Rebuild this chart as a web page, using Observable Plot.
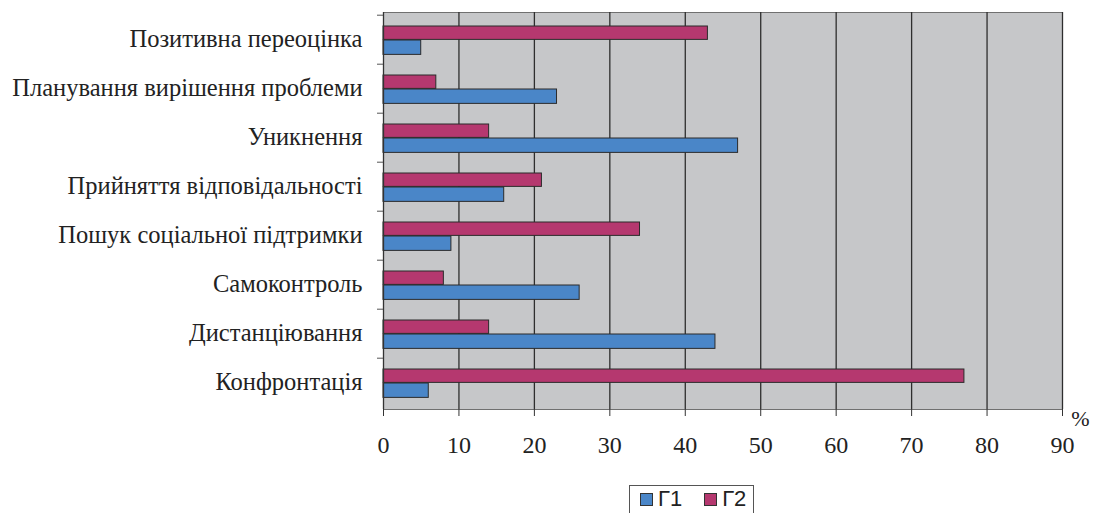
<!DOCTYPE html>
<html><head><meta charset="utf-8">
<script src="https://cdn.jsdelivr.net/npm/d3@7"></script>
<script src="https://cdn.jsdelivr.net/npm/@observablehq/plot@0.6"></script>
<style>
body{margin:0;background:#fff;}
#wrap{position:relative;width:1093px;height:513px;overflow:hidden;}
#legend{position:absolute;left:629px;top:485px;width:125px;height:40px;border:1px solid #555;border-bottom:none;font-family:"Liberation Sans",Arial,sans-serif;font-size:22px;line-height:24px;color:#222;display:flex;align-items:flex-start;padding-top:1px;box-sizing:border-box;}
.item{display:flex;align-items:center;margin-left:10px;margin-right:12px;}
.sw{width:11px;height:11px;border:1px solid #333;margin-right:5px;}
</style></head>
<body><div id="wrap"><div id="chart"></div><div id="legend"></div></div>
<script>
const categories = ["Позитивна переоцінка","Планування вирішення проблеми","Уникнення","Прийняття відповідальності","Пошук соціальної підтримки","Самоконтроль","Дистанціювання","Конфронтація"];
const seriesNames = ["Г1","Г2"];
const g1 = [5,23,47,16,9,26,44,6];
const g2 = [43,7,14,21,34,8,14,77];
const xTicks = [0,10,20,30,40,50,60,70,80,90];
const colors = {"Г1":"#4a86c8","Г2":"#b5386f"};

const W = 1093, H = 466, mT = 12, mB = 57, mL = 383, mR = 31;
const bw = (H - mT - mB) / categories.length;
const rows = categories.map((c,i)=>({cat:c, g1:g1[i], g2:g2[i]}));
const serif = "'Liberation Serif','Times New Roman',serif";

const chart = Plot.plot({
  width: W, height: H,
  marginTop: mT, marginBottom: mB, marginLeft: mL, marginRight: mR,
  style: {fontFamily: serif, background: "#fff"},
  x: {domain: [0, 90], label: null},
  y: {domain: categories, padding: 0, label: null},
  marks: [
    Plot.frame({fill: "#c6c7c9", stroke: "#707070"}),
    Plot.ruleX(xTicks.filter(d => d > 0), {stroke: "#2e2e2e", strokeWidth: 1.3}),
    Plot.barX(rows, {x: "g2", y: "cat", fill: colors["Г2"], stroke: "#2b2b2b", strokeWidth: 1, insetTop: 11, insetBottom: bw - 25}),
    Plot.barX(rows, {x: "g1", y: "cat", fill: colors["Г1"], stroke: "#2b2b2b", strokeWidth: 1, insetTop: 25, insetBottom: bw - 40}),
    Plot.ruleX([0], {stroke: "#333", strokeWidth: 1.3}),
    Plot.ruleY([0], {stroke: "#333", strokeWidth: 1.3}),
    Plot.ruleY(categories, {y: d => d, dy: -bw/2, x1: 0, x2: 0, insetLeft: -6, stroke: "#555"}),
    Plot.axisY({tickSize: 0, tickPadding: 21, fontSize: 24.5, fill: "#222", dy: -1, label: null}),
    Plot.axisX({ticks: xTicks, tickSize: 7, tickPadding: 19, fontSize: 24, fill: "#222", stroke: "#333", tickFormat: d => String(d), label: null}),
    Plot.text(["%"], {x: 90, frameAnchor: "bottom", text: d => d, dx: 18, dy: 16, fontSize: 22, fill: "#222"})
  ]
});
document.getElementById("chart").appendChild(chart);

const lg = document.getElementById("legend");
seriesNames.forEach(s => {
  const it = document.createElement("div"); it.className = "item";
  const sw = document.createElement("div"); sw.className = "sw"; sw.style.background = colors[s];
  const t = document.createElement("span"); t.textContent = s;
  it.appendChild(sw); it.appendChild(t); lg.appendChild(it);
});
</script></body></html>
